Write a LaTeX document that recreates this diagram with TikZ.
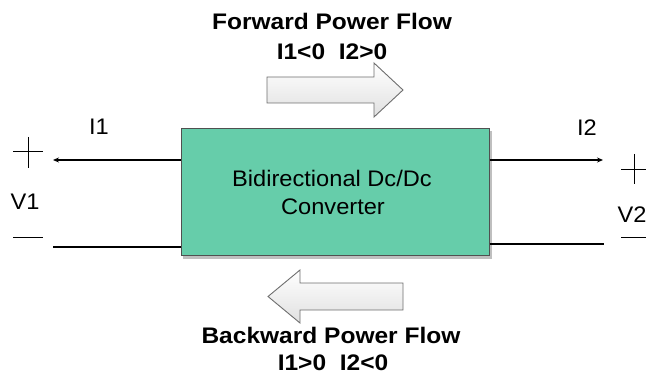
\documentclass[tikz,border=0pt]{standalone}
\usepackage{fontspec}
\setmainfont{Liberation Sans}[FakeStretch=1.05]
\newfontfamily\boldlab{Liberation Sans Bold}[FakeStretch=1.09]
\usetikzlibrary{arrows.meta}
\definecolor{boxfill}{HTML}{66CDAA}
\definecolor{boxline}{HTML}{505050}
\definecolor{arrline}{HTML}{6E6E6E}
\tikzset{
  lbl/.style={inner sep=0pt, anchor=base, font=\fontsize{22.5}{26}\selectfont},
  blbl/.style={lbl, font=\fontsize{22.5}{26}\selectfont\boldlab},
  wire/.style={line width=1.2pt, black},
  sign/.style={line width=1pt, black},
  flowarrow/.style={draw=arrline, line width=0.9pt, top color=white, bottom color=black!12},
  convbox/.style={draw=boxline, line width=1pt, fill=boxfill, minimum width=308pt, minimum height=127pt, inner sep=0pt, align=center}
}
\begin{document}
\begin{tikzpicture}[x=1pt,y=-1pt]
\useasboundingbox (0,0) rectangle (648,374);
% shadow of box
\fill[black!25] (183,131) rectangle (492,259);
\node[convbox] (box) at (335,192.5) {};
\node[lbl] (t1) at (332,187) {Bidirectional Dc/Dc};
\node[lbl] (t2) at (333,215) {Converter};
% wire ends
\coordinate (l1) at (53,160);
\coordinate (l2) at (53,247);
\coordinate (r1) at (603,160);
\coordinate (r2) at (604,244);
\draw[wire, -{Stealth[length=6pt,width=5pt]}] (box.west |- l1) -- (l1);
\draw[wire] (box.west |- l2) -- (l2);
\draw[wire, -{Stealth[length=6pt,width=5pt]}] (box.east |- r1) -- (r1);
\draw[wire] (box.east |- r2) -- (r2);
% signs
\draw[sign] (13,152) -- (43,152) (28,137) -- (28,168);
\draw[sign] (13,238) -- (43,238);
\draw[sign] (621,170) -- (646,170) (634,154) -- (634,184);
\draw[sign] (621,238) -- (646,238);
% labels
\node[lbl] (i1) at (99,135) {I1};
\node[lbl] (v1) at (25,210) {V1};
\node[lbl] (i2) at (587,136) {I2};
\node[lbl] (v2) at (632,223) {V2};
% flow arrows
\draw[flowarrow] (267,77) -- (374,77) -- (374,63) -- (403,90) -- (374,117) -- (374,103) -- (267,103) -- cycle;
\draw[flowarrow] (403,283) -- (300,283) -- (300,270) -- (268,296.5) -- (300,323) -- (300,310) -- (403,310) -- cycle;
% flow texts
\node[blbl] (f1) at (332,30) {Forward Power Flow};
\node[blbl] (f2) at (332,60) {I1<0\ \ I2>0};
\node[blbl] (b1) at (331,343) {Backward Power Flow};
\node[blbl] (b2) at (333,370) {I1>0\ \ I2<0};
\end{tikzpicture}
\end{document}
